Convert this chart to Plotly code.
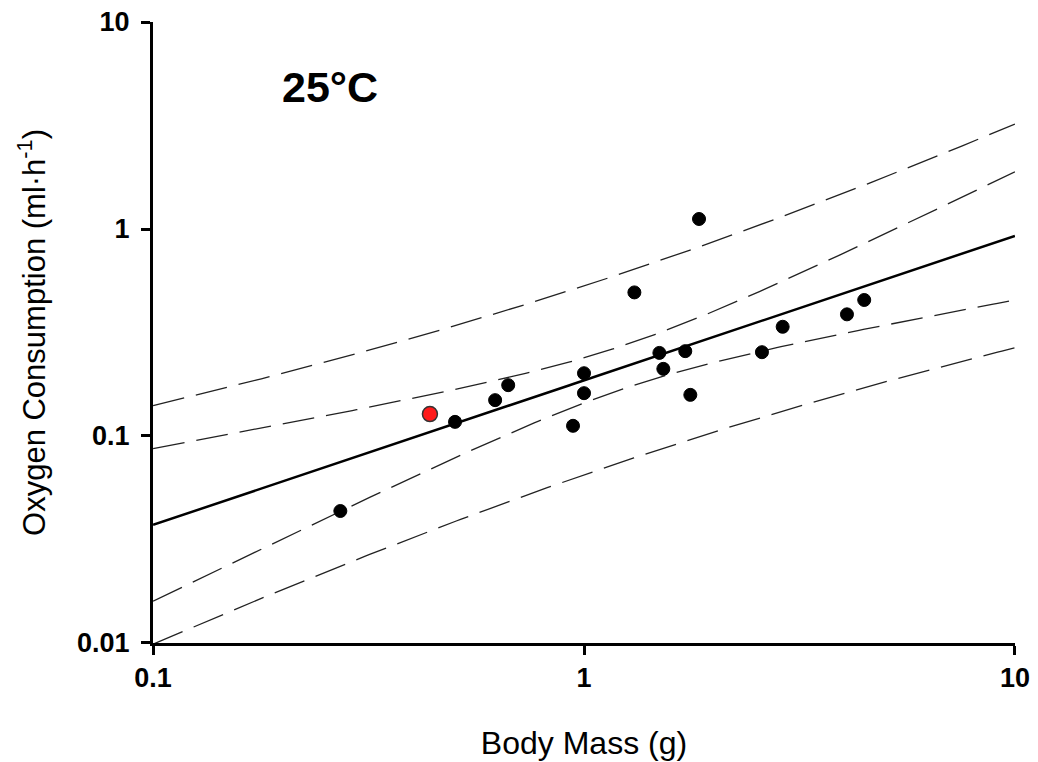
import numpy as np
import plotly.graph_objects as go

# Body mass (g) and oxygen consumption (ml/h)
body_mass = [0.272, 0.502, 0.622, 0.667, 0.943, 1.0, 1.0, 1.849, 1.309,
             1.496, 1.528, 1.718, 1.765, 2.588, 2.891, 4.076, 4.470]
oxygen = [0.0434, 0.117, 0.149, 0.176, 0.112, 0.201, 0.161, 1.118, 0.494,
          0.252, 0.211, 0.257, 0.158, 0.254, 0.337, 0.387, 0.454]
# highlighted individual (red)
red_mass = [0.439]
red_oxygen = [0.1276]

x_ticks = [0.1, 1, 10]
y_ticks = [0.01, 0.1, 1, 10]
x_tick_labels = ["0.1", "1", "10"]
y_tick_labels = ["0.01", "0.1", "1", "10"]

# log-log least-squares fit over all individuals, 95% confidence & prediction bands
lx = np.log10(np.array(body_mass + red_mass))
ly = np.log10(np.array(oxygen + red_oxygen))
n = len(lx)
slope, intercept = np.polyfit(lx, ly, 1)
resid = ly - (intercept + slope * lx)
s = np.sqrt(np.sum(resid ** 2) / (n - 2))
t_crit = 2.1199  # t(0.975, df=16)
sxx = np.sum((lx - lx.mean()) ** 2)

grid = np.linspace(-1, 1, 200)
fit = intercept + slope * grid
se_mean = s * np.sqrt(1 / n + (grid - lx.mean()) ** 2 / sxx)
se_pred = s * np.sqrt(1 + 1 / n + (grid - lx.mean()) ** 2 / sxx)
gx = 10 ** grid

fig = go.Figure()
dash_style = dict(color="#222222", width=1.3, dash="32px,12px")
for band in [fit + t_crit * se_pred, fit + t_crit * se_mean,
             fit - t_crit * se_mean, fit - t_crit * se_pred]:
    fig.add_trace(go.Scatter(x=gx, y=10 ** band, mode="lines", line=dash_style,
                             hoverinfo="skip", showlegend=False))
fig.add_trace(go.Scatter(x=gx, y=10 ** fit, mode="lines",
                         line=dict(color="black", width=2.5), showlegend=False))
fig.add_trace(go.Scatter(x=body_mass, y=oxygen, mode="markers",
                         marker=dict(color="black", size=13,
                                     line=dict(color="black", width=1)),
                         showlegend=False))
fig.add_trace(go.Scatter(x=red_mass, y=red_oxygen, mode="markers",
                         marker=dict(color="#ff1a1a", size=15,
                                     line=dict(color="#333333", width=1.5)),
                         showlegend=False))

tick_font = dict(family="Liberation Sans, Arial", size=27, color="black")
fig.update_layout(
    width=1030, height=754,
    margin=dict(l=145, r=23, t=14, b=119),
    paper_bgcolor="white", plot_bgcolor="white",
    font=dict(family="Liberation Sans, Arial", color="black"),
    xaxis=dict(type="log", range=[-1.0002, 1.0002], tickvals=x_ticks,
               ticktext=["<b>%s</b>" % t for t in x_tick_labels],
               tickfont=tick_font, ticks="outside", ticklen=9, tickwidth=2.5,
               tickcolor="black", showline=True, linecolor="black", linewidth=3,
               showgrid=False, zeroline=False, automargin=False,
               ticklabeloverflow="allow",
               title=dict(text="Body Mass (g)", font=dict(size=32), standoff=40)),
    yaxis=dict(type="log", range=[-2.0002, 1.0002], tickvals=y_ticks,
               ticktext=["<b>%s</b>" % t for t in y_tick_labels],
               tickfont=tick_font, ticks="outside", ticklen=9, tickwidth=2.5,
               tickcolor="black", showline=True, linecolor="black", linewidth=3,
               showgrid=False, zeroline=False, automargin=False,
               ticklabeloverflow="allow", ticklabelstandoff=6,
               title=dict(text="Oxygen Consumption (ml·h<sup>-1</sup>)",
                          font=dict(size=31), standoff=23)),
    annotations=[dict(text="<b>25°C</b>", xref="paper", yref="paper",
                      x=0.205, y=0.895, xanchor="center", yanchor="middle",
                      showarrow=False, font=dict(size=43, color="black"))],
)
fig.write_html("out.html")
